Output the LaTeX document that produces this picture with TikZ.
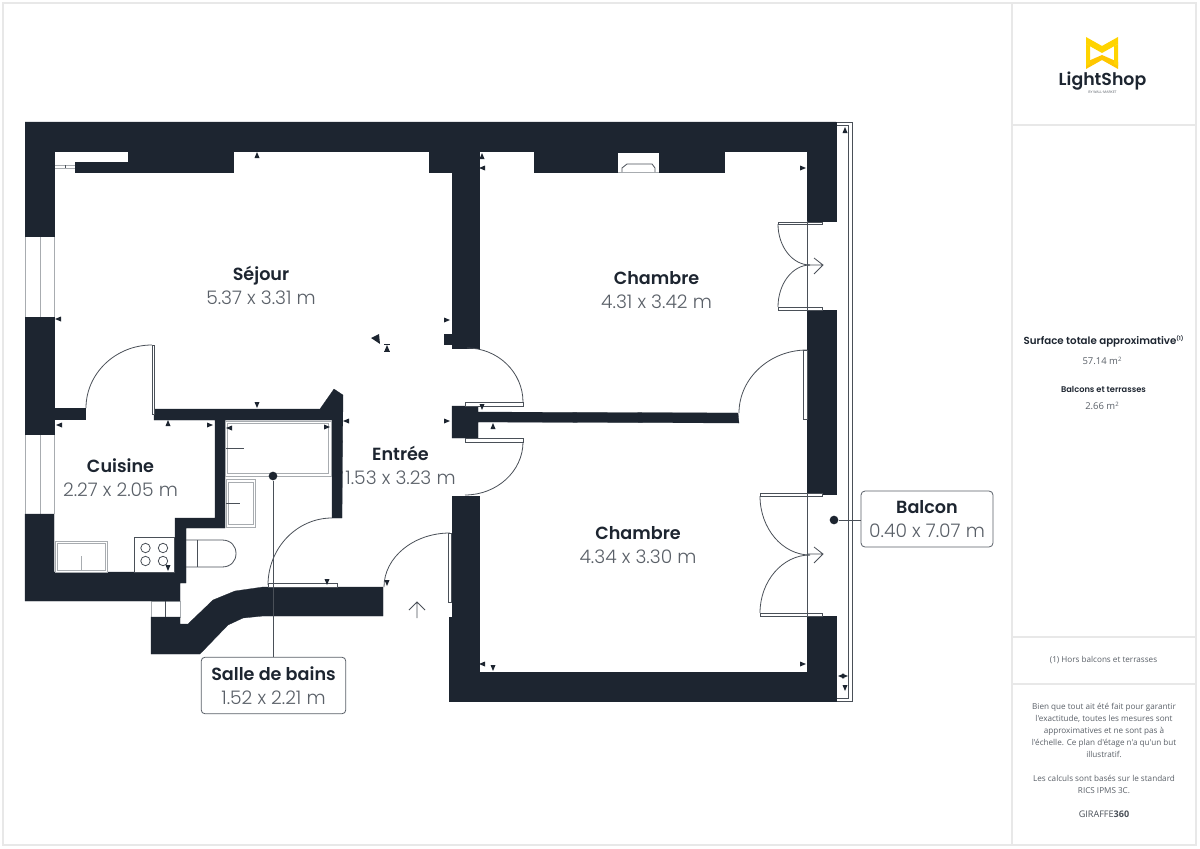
\documentclass[tikz,border=0pt]{standalone}
\usepackage{fontspec}
\setmainfont{Poppins}[UprightFont=* Light,BoldFont=* SemiBold]
\newfontfamily\sidefont{Open Sans}
\definecolor{wallc}{HTML}{1D2530}
\definecolor{dimc}{HTML}{5A6068}
\definecolor{linec}{HTML}{4A5058}
\definecolor{softc}{HTML}{A8ACB0}
\definecolor{framec}{HTML}{E8E8E8}
\definecolor{logoc}{HTML}{FFD400}
\newcommand{\rname}[1]{{\fontsize{13.2}{18}\selectfont\bfseries\color{wallc}#1}}
\newcommand{\rdim}[1]{{\fontsize{14}{18}\selectfont\color{dimc}#1}}
% quarter arc: horizontal tangent at first point, vertical tangent at second
\newcommand{\qarc}[4]{\draw[doorline] (#1,#2) .. controls ({#1+(#3-#1)*.55},#2) and (#3,{#4+(#2-#4)*.55}) .. (#3,#4);}
\newcommand{\mku}[2]{\fill[wallc] (#1,#2) ++(0,-3) -- ++(2.5,6) -- ++(-5,0) -- cycle;}
\newcommand{\mkd}[2]{\fill[wallc] (#1,#2) ++(0,3) -- ++(2.5,-6) -- ++(-5,0) -- cycle;}
\newcommand{\mkl}[2]{\fill[wallc] (#1,#2) ++(-3,0) -- ++(6,2.5) -- ++(0,-5) -- cycle;}
\newcommand{\mkr}[2]{\fill[wallc] (#1,#2) ++(3,0) -- ++(-6,2.5) -- ++(0,-5) -- cycle;}
\tikzset{
  wallfill/.style={fill=wallc,draw=wallc,line width=.2pt},
  doorline/.style={draw=linec,line width=.6pt},
  softline/.style={draw=softc,line width=.7pt},
  leaf/.style={draw=linec,fill=white,line width=.6pt},
  fixture/.style={draw=softc,fill=white,line width=.7pt},
  roomlabel/.style={align=center,inner sep=0pt,font=\fontsize{13.5}{18}\selectfont},
  boxlabel/.style={roomlabel,draw=dimc,fill=white,rounded corners=3pt,line width=.6pt},
  leaderdot/.style={circle,fill=wallc,inner sep=0pt,minimum size=6.5pt},
  leader/.style={draw=linec,line width=.7pt},
  frame/.style={draw=framec,line width=.8pt},
  sidetext/.style={align=center,inner sep=0pt,text=dimc,font=\sidefont\fontsize{6.1}{9}\selectfont}
}
\begin{document}
\begin{tikzpicture}[x=0.75pt,y=-0.75pt]
\useasboundingbox (0,0) rectangle (1200,849);
\fill[white] (0,0) rectangle (1200,849);
% page frame
\draw[frame] (3,3) rectangle (1196,845);
\draw[frame] (1012,3) -- (1012,845);
\draw[frame] (1012,125) -- (1196,125);
\draw[frame] (1012,637) -- (1196,637);
\draw[frame] (1012,684) -- (1196,684);
% balcony outline (open towards the building)
\draw[doorline] (836,122) -- (852,122) -- (852,701) -- (836,701);
\draw[doorline] (836,125) -- (848,125) -- (848,698) -- (836,698);
% windows
\draw[softline] (40,236) -- (40,317);
\draw[softline] (40,434) -- (40,514);
\draw[softline] (25,236) -- (25,317) (25,434) -- (25,514) (54,236) -- (54,317) (54,434) -- (54,514);
\draw[softline] (151,601) rectangle (180,617);
\draw[doorline] (165.5,601) -- (165.5,617);
\draw[softline] (54,165) rectangle (75,168);
\draw[doorline] (65,165) -- (65,168);
% walls
\filldraw[wallfill] (25,122) -- (836,122) -- (836,221) -- (807,221) -- (807,151) -- (724,151) -- (724,172) -- (534,172) -- (534,151) -- (479,151) -- (479,348) -- (452,348) -- (452,344) -- (444,344) -- (444,334) -- (452,334) -- (452,172) -- (429,172) -- (429,151) -- (233,151) -- (233,172) -- (75,172) -- (75,162) -- (128,162) -- (128,151) -- (54,151) -- (54,236) -- (25,236) -- cycle;
\filldraw[wallfill] (25,317) -- (54,317) -- (54,408) -- (85,408) -- (85,419) -- (54,419) -- (54,434) -- (25,434) -- cycle;
\filldraw[wallfill] (25,514) -- (54,514) -- (54,572) -- (175,572) -- (175,518) -- (215,518) -- (215,420) -- (154,420) -- (154,409) -- (320,409) -- (334,389) -- (343,395) -- (342,518) -- (332,518) -- (332,420) -- (225,420) -- (225,528) -- (186,528) -- (186,583) -- (180,583) -- (180,601) -- (25,601) -- cycle;
\filldraw[wallfill] (151,617) -- (180,617) -- (180,624) -- (188,624) -- (213,600) -- (235,591) -- (263,587) -- (383,587) -- (383,616) -- (263,616) -- (243,618) -- (228,625) -- (200,654) -- (151,654) -- cycle;
\filldraw[wallfill] (452,406) -- (478,406) -- (478,412) -- (738,413) -- (739,423) -- (478,422) -- (478,438) -- (452,438) -- cycle;
\filldraw[wallfill] (452,496) -- (479,496) -- (479,672) -- (807,672) -- (807,616) -- (836,616) -- (836,701) -- (449,701) -- (449,617) -- (452,617) -- cycle;
\filldraw[wallfill] (807,310) -- (836,310) -- (836,494) -- (807,494) -- cycle;
% radiator niche
\fill[white] (618,153) rectangle (659,172);
\draw[softline] (618,172) -- (659,172);
\draw[doorline] (622,172) -- (622,168) -- (627,164) -- (652,164) -- (655,168) -- (655,172);
% door leaves
\draw[leaf] (152,345) rectangle (154,414);
\draw[leaf] (268,583) rectangle (337,587);
\draw[leaf] (448,533) rectangle (451,602);
\draw[leaf] (465,402) -- (523,402) -- (523,406) -- (465,406) -- cycle;
\draw[leaf] (465,438) -- (523,438) -- (523,442) -- (465,442) -- cycle;
\draw[leaf] (803.5,350) rectangle (807,419);
\draw[leaf] (778,222) rectangle (822,224.5);
\draw[leaf] (778,307) rectangle (822,310);
\draw[leaf] (760,493) rectangle (822,496);
\draw[leaf] (760,613) rectangle (822,616);
% door swings
\qarc{152}{345}{86}{408}
\qarc{332}{518}{268}{585}
\qarc{450}{533}{384}{587}
\qarc{467}{348}{523}{402}
\qarc{465}{495}{523}{442}
\qarc{807}{350}{739}{413}
\qarc{810}{265}{778}{224}
\qarc{810}{265}{778}{307}
\qarc{810}{555}{760}{496}
\qarc{810}{555}{760}{613}
\draw[doorline] (807,221) -- (807,310) (807,494) -- (807,616);
% entrance and french-door arrows
\draw[doorline] (807,265) -- (823,265) (814,258) -- (823,265) -- (814,274);
\draw[doorline] (807,554) -- (823,554) (814,547) -- (823,554) -- (814,563);
\draw[doorline] (417,618) -- (417,602) (409,610) -- (417,602) -- (425,610);
% bathroom and kitchen fixtures
\draw[fixture] (225,421) rectangle (331,476);
\draw[fixture] (227.5,423.5) rectangle (328.5,473.5);
\draw[doorline] (226,448) -- (244,448);
\draw[fixture] (226,479) rectangle (255,527);
\draw[fixture] (228,482) rectangle (253,524.5);
\draw[doorline] (226,503) -- (240,503);
\draw[doorline] (186,540) -- (222,540) .. controls (231,540) and (236,546) .. (236,553.5) .. controls (236,561) and (231,567) .. (222,567) -- (186,567);
\draw[doorline] (197,540) -- (197,567);
\draw[fixture] (55.5,541) rectangle (107,572);
\draw[fixture] (57.5,543) rectangle (105,570);
\draw[softline] (81,556) -- (81,571);
\draw[draw=linec,fill=white,line width=.6pt] (134.5,537) rectangle (174,572);
\foreach \cx/\cy in {145.5/548,163/548,145.5/561,163/561}
  \draw[doorline] (\cx,\cy) circle[radius=4.7];
% small measuring marks
\mku{257}{155} \mkl{58}{319} \mkr{447}{320} \mkl{59}{425} \mku{168}{423} \mkr{210}{425}
\mkd{257}{405} \mkl{229}{428} \mkr{327}{427} \mkl{346}{421} \mkr{447}{421} \mkd{327}{582} \mkd{387}{583}
\mkd{168}{568} \mkd{482}{407} \mku{493}{426} \mku{387}{348} \mku{482}{156} \mkl{482}{168}
\mkr{803}{168} \mku{845}{130} \mkr{803}{664} \mkd{845}{688} \mkl{841}{676} \mkr{845}{676} \mkl{482}{664} \mkd{493}{668}
\fill[wallc] (371,338) -- (379,334) -- (380,344) -- cycle;
\draw[wallc,line width=.4pt] (384,344.5) -- (390,344.5) (384,351) -- (390,351);
% room labels
\node[roomlabel] (sejour) at (261,285.5) {\rname{Séjour}\\[-.5pt]\rdim{5.37 x 3.31 m}};
\node[roomlabel] (chambrehaut) at (656.5,290) {\rname{Chambre}\\[-.5pt]\rdim{4.31 x 3.42 m}};
\node[roomlabel] (chambrebas) at (638,545) {\rname{Chambre}\\[-.5pt]\rdim{4.34 x 3.30 m}};
\node[roomlabel] (cuisine) at (120.5,477.5) {\rname{Cuisine}\\[-.5pt]\rdim{2.27 x 2.05 m}};
\node[roomlabel] (entree) at (400.5,465.5) {\rname{Entrée}\\[-.5pt]\rdim{1.53 x 3.23 m}};
% call-out labels
\node[leaderdot] (bathdot) at (273,476) {};
\node[leaderdot] (balcdot) at (834,520) {};
\node[boxlabel,minimum width=108.5pt,minimum height=42.5pt] (bains) at (273.5,685.5) {\rname{Salle de bains}\\[-.5pt]\rdim{1.52 x 2.21 m}};
\node[boxlabel,minimum width=99pt,minimum height=42pt] (balcon) at (927,519) {\rname{Balcon}\\[-.5pt]\rdim{0.40 x 7.07 m}};
\draw[leader] (bathdot) -- (bains.north -| bathdot);
\draw[leader] (balcdot) -- (balcdot -| balcon.west);
% logo
\fill[logoc] (1086,37) -- (1102,46) -- (1118,37) -- (1118,44) -- (1102,53) -- (1086,44) -- cycle;
\fill[logoc!85!orange] (1086,62) -- (1102,55) -- (1118,62) -- (1118,69) -- (1102,60) -- (1086,69) -- cycle;
\fill[logoc] (1086,44) -- (1090,46) -- (1090,64) -- (1086,66) -- cycle;
\fill[logoc] (1118,44) -- (1114,46) -- (1114,64) -- (1118,66) -- cycle;
\node[inner sep=0pt,text=wallc,font=\fontsize{13}{16}\selectfont\bfseries] (logotext) at (1102.5,81.5) {LightShop};
\node[inner sep=0pt,text=dimc,font=\sidefont\fontsize{2.6}{3}\selectfont] (logosub) at (1102.5,92.5) {BY WALL·MARKET};
% side panel
\node[inner sep=0pt,text=wallc,font=\fontsize{7.7}{9}\selectfont\bfseries] (surface) at (1103.5,341) {Surface totale approximative\raisebox{3pt}{\fontsize{4}{4}\selectfont (1)}};
\node[sidetext,font=\sidefont\fontsize{7.1}{9}\selectfont] (surfval) at (1102,361) {57.14 m\raisebox{2.5pt}{\fontsize{4.5}{4}\selectfont 2}};
\node[inner sep=0pt,text=wallc,font=\fontsize{6.2}{9}\selectfont\bfseries] (balctitle) at (1103.5,389.5) {Balcons et terrasses};
\node[sidetext,font=\sidefont\fontsize{7.1}{9}\selectfont] (balcval) at (1102,406) {2.66 m\raisebox{2.5pt}{\fontsize{4.5}{4}\selectfont 2}};
\node[sidetext] (note) at (1103.5,660.5) {(1) Hors balcons et terrasses};
\node[sidetext,anchor=north] (disclaimer) at (1104,703) {Bien que tout ait été fait pour garantir\\l'exactitude, toutes les mesures sont\\approximatives et ne sont pas à\\l'échelle. Ce plan d'étage n'a qu'un but\\illustratif.\\[9pt]Les calculs sont basés sur le standard\\RICS IPMS 3C.};
\node[inner sep=0pt,text=linec,font=\sidefont\fontsize{6.8}{9}\selectfont] (giraffe) at (1104,814) {GIRAFFE{\bfseries 360}};
\end{tikzpicture}
\end{document}
